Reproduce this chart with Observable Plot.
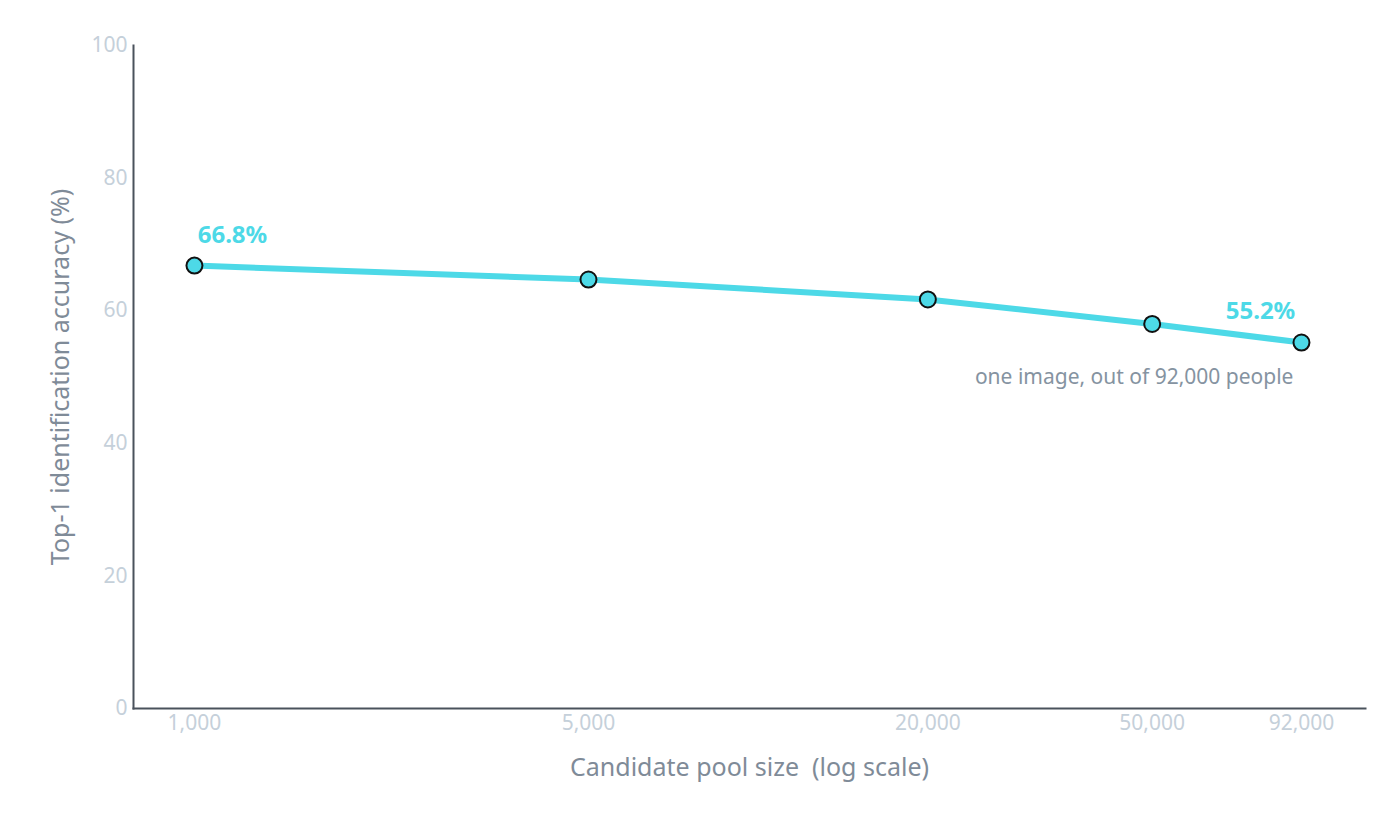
<!DOCTYPE html>
<html>
<head>
<meta charset="utf-8">
<script src="https://cdn.jsdelivr.net/npm/d3@7"></script>
<script src="https://cdn.jsdelivr.net/npm/@observablehq/plot@0.6"></script>
<style>
  html, body { margin: 0; padding: 0; background: #ffffff; }
  #chart svg { display: block; }
</style>
</head>
<body>
<div id="chart"></div>
<script>
const poolSizes = [1000, 5000, 20000, 50000, 92000];
const accuracy = [66.8, 64.7, 61.7, 58.0, 55.2];
const xTicks = [1000, 5000, 20000, 50000, 92000];
const yTicks = [0, 20, 40, 60, 80, 100];
const xTitle = "Candidate pool size\u00a0 (log scale)";
const yTitle = "Top-1 identification accuracy (%)";
const startLabel = "66.8%";
const endLabel = "55.2%";
const endNote = "one image, out of 92,000 people";

const data = poolSizes.map((n, i) => ({n, acc: accuracy[i]}));
const first = data[0];
const last = data[data.length - 1];

const cyan = "#4dd9e7";
const tickColor = "#c5d0da";
const titleColor = "#7f8b98";
const axisColor = "#4a525c";
const font = "'Noto Sans', 'Open Sans', sans-serif";

const chart = Plot.plot({
  width: 1400,
  height: 819,
  marginLeft: 133,
  marginRight: 35,
  marginTop: 45,
  marginBottom: 111,
  style: {fontFamily: font, background: "#ffffff"},
  x: {type: "log", domain: [779.6, 119500], axis: null},
  y: {domain: [0, 100]},
  marks: [
    Plot.text(xTicks, {x: d => d, frameAnchor: "bottom", lineAnchor: "middle", dy: 15, text: d => d3.format(",")(d), fill: tickColor, fontSize: 21}),
    Plot.axisY({ticks: yTicks, tickSize: 0, tickPadding: 6, fontSize: 21, fill: tickColor, label: null}),
    Plot.frame({anchor: "bottom", stroke: axisColor, strokeWidth: 2}),
    Plot.frame({anchor: "left", stroke: axisColor, strokeWidth: 2}),
    Plot.line(data, {x: "n", y: "acc", stroke: cyan, strokeWidth: 6}),
    Plot.dot(data, {x: "n", y: "acc", r: 8, fill: cyan, stroke: "#111111", strokeWidth: 2}),
    Plot.text([first], {x: "n", y: "acc", text: () => startLabel, dx: 38, dy: -30, fill: cyan, fontSize: 24, fontWeight: "bold"}),
    Plot.text([last], {x: "n", y: "acc", text: () => endLabel, dx: -41, dy: -31, fill: cyan, fontSize: 24, fontWeight: "bold"}),
    Plot.text([last], {x: "n", y: "acc", text: () => endNote, dx: -8, dy: 35, textAnchor: "end", fill: "#8593a1", fontSize: 21}),
    Plot.text([xTitle], {frameAnchor: "bottom", lineAnchor: "middle", dy: 59, fill: titleColor, fontSize: 25}),
    Plot.text([yTitle], {frameAnchor: "left", textAnchor: "middle", lineAnchor: "middle", dx: -73, rotate: -90, fill: titleColor, fontSize: 25})
  ]
});
document.getElementById("chart").appendChild(chart);
</script>
</body>
</html>
